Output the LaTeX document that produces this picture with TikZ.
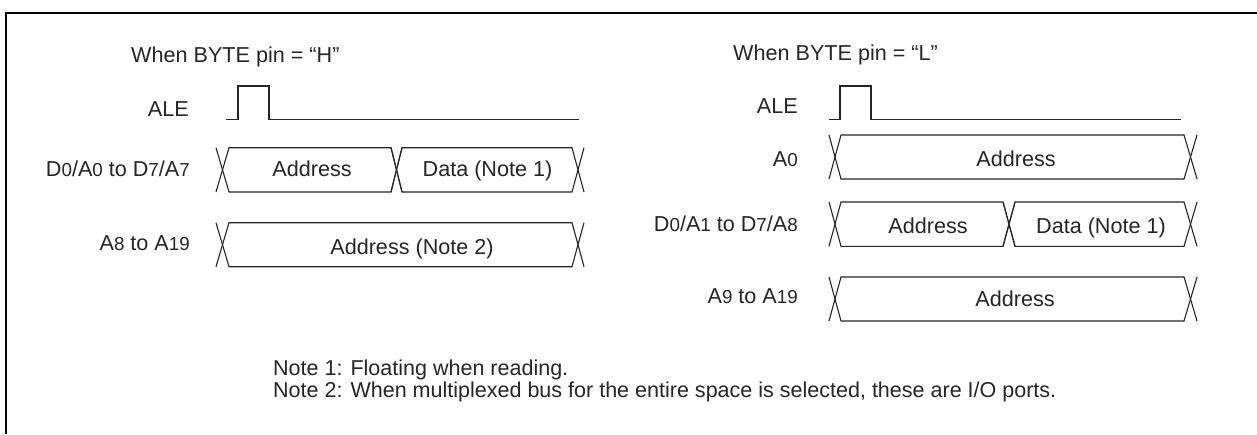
\documentclass[tikz,border=0pt]{standalone}
\usepackage{fontspec}
\setmainfont{Liberation Sans}
\newcommand{\sm}[1]{{\fontsize{18.8}{18.8}\selectfont #1}}
\newcommand{\busshape}[6]{% x1 x2 x3 x4 top bottom: X at left, box, X at right
  \draw[sig] (#1,-#5) -- (#2,-#6) -- (#3,-#6) -- (#4,-#5);
  \draw[sig] (#1,-#6) -- (#2,-#5) -- (#3,-#5) -- (#4,-#6);
}
\tikzset{
  x=1pt,y=1pt,
  sig/.style={draw=black!85,line width=1.1pt,line join=miter},
  frameline/.style={draw=black,line width=2.6pt},
  lab/.style={inner sep=0pt,text=black!85,font=\fontsize{21.6}{25}\selectfont},
  rlab/.style={lab,anchor=base east},
  llab/.style={lab,anchor=base west},
  clab/.style={lab,anchor=base},
  notelab/.style={llab,font=\fontsize{21.52}{25}\selectfont},
}
\begin{document}
\begin{tikzpicture}
\useasboundingbox (0,0) rectangle (1257,-434);
\fill[white] (0,0) rectangle (1257,-434);
\draw[frameline] (6,-434) -- (6,-13) -- (1257,-13);
% left
\node[llab] (titleH) at (131,-62) {When BYTE pin = “H”};
\node[rlab] (aleL) at (189,-116.7) {ALE};
\draw[sig] (226,-119.3) -- (238,-119.3) -- (238,-86) -- (269,-86) -- (269,-119.3) -- (579,-119.3);
\node[rlab] (d0L) at (190,-176.7) {D\sm{0}/A\sm{0} to D\sm{7}/A\sm{7}};
\busshape{216}{229}{391}{402}{147.7}{192}
\busshape{391}{402}{572}{584}{147.7}{192}
\node[clab] (addrL) at (312,-176.7) {Address};
\node[clab] (dataL) at (487.5,-176.7) {Data (Note 1)};
\node[rlab] (a8L) at (190,-250.7) {A\sm{8} to A\sm{19}};
\busshape{216}{229}{572}{584}{222.7}{266.7}
\node[clab] (addrL2) at (412,-254) {Address (Note 2)};
% right
\node[llab] (titleL) at (733,-60.7) {When BYTE pin = “L”};
\node[rlab] (aleR) at (798,-113.5) {ALE};
\draw[sig] (829,-119.3) -- (840,-119.3) -- (840,-86) -- (871,-86) -- (871,-119.3) -- (1181,-119.3);
\node[rlab] (a0R) at (798,-166) {A\sm{0}};
\busshape{829}{841}{1184}{1197}{135}{179}
\node[clab] (addrR1) at (1016,-166) {Address};
\node[rlab] (d0R) at (798,-231.7) {D\sm{0}/A\sm{1} to D\sm{7}/A\sm{8}};
\busshape{829}{841}{1003}{1015}{202}{246.3}
\busshape{1003}{1015}{1184}{1197}{202}{246.3}
\node[clab] (addrR2) at (928,-233.3) {Address};
\node[clab] (dataR) at (1101,-233.3) {Data (Note 1)};
\node[rlab] (a9R) at (798,-303.3) {A\sm{9} to A\sm{19}};
\busshape{829}{841}{1184}{1197}{277}{321}
\node[clab] (addrR3) at (1015,-306) {Address};
% notes
\node[notelab] (note1) at (273,-375) {Note 1: Floating when reading.};
\node[notelab] (note2) at (273,-397.7) {Note 2: When multiplexed bus for the entire space is selected, these are I/O ports.};
\end{tikzpicture}
\end{document}
